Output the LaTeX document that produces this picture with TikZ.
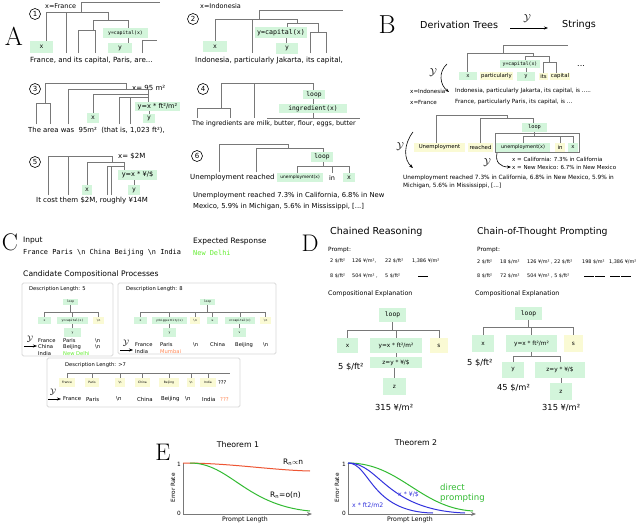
\documentclass[tikz,border=0pt]{standalone}
\usepackage{fontspec}
\setsansfont{DejaVu Sans}
\setmonofont{DejaVu Sans Mono}
\usetikzlibrary{arrows.meta}
\definecolor{boxg}{HTML}{D3F5DB}
\definecolor{boxy}{HTML}{FAFAD4}
\definecolor{treeg}{HTML}{787878}
\definecolor{ngreen}{HTML}{66EE33}
\definecolor{norange}{HTML}{FF8855}
\definecolor{cgreen}{HTML}{33BB33}
\definecolor{cred}{HTML}{EE5533}
\definecolor{cblue}{HTML}{3333DD}
\newcommand{\fsz}[1]{\fontsize{#1}{#1}\selectfont}
\newcommand{\mybox}[7]{\node[#1, minimum width={(#5-#3)*1pt}, minimum height={(#6-#4)*1pt}] (#2) at ({(#3+#5)/2},{(#4+#6)/2}) {#7};}
\newcommand{\blank}{\rule[-0.5pt]{10pt}{0.4pt}}
\tikzset{
 tl/.style={draw=treeg, line width=0.85pt},
 gb/.style={fill=boxg, inner sep=0pt, font=\ttfamily\fsz{6.3}},
 yb/.style={fill=boxy, inner sep=0pt, font=\sffamily\fsz{5.4}},
 tx/.style={inner sep=0pt, font=\sffamily\fsz{7}, anchor=west},
 pr/.style={inner sep=0pt, font=\sffamily\fsz{4.9}, anchor=west},
 circ/.style={draw, circle, inner sep=0pt, minimum size=11pt, line width=0.6pt, font=\sffamily\fsz{7}},
 big/.style={inner sep=0pt, font=\rmfamily\fsz{26}},
 cbox/.style={draw=black!15, line width=0.8pt, rounded corners=1.5pt},
 arr/.style={-{Stealth[length=4pt,width=3pt]}, line width=0.6pt},
 scy/.style={inner sep=0pt, font=\fsz{10}},
}
\begin{document}
\begin{tikzpicture}[x=1pt,y=-1pt]
\useasboundingbox (0,0) rectangle (640,525);
\fill[white] (0,0) rectangle (640,525);
%================ A =================
\node[big] (lA) at (14,36) {A};
% tree 1
\node[circ] (c1) at (35,14) {1};
\node[tx,font=\sffamily\fsz{6.5}] (a1v) at (45,6) {x=France};
\draw[tl] (81,12)--(81,2)--(160,2);
\draw[tl] (46,41)--(46,12)--(108,12)--(108,20);
\draw[tl] (66,12)--(66,53);
\draw[tl] (93,30)--(93,20)--(128,20)--(128,28);
\draw[tl] (78,53)--(78,30)--(95,30)--(95,53);
\draw[tl] (128,38)--(128,43);
\draw[tl] (142,53)--(142,40)--(157,40);
\mybox{gb}{a1x}{30}{41}{53}{53}{x}
\mybox{gb,font=\ttfamily\fsz{4.8}}{a1c}{103}{28}{148}{38}{y=capital(x)}
\mybox{gb}{a1y}{108}{43}{132}{53}{y}
\node[tx,font=\sffamily\fsz{7.1}] (a1t) at (30,61) {France, and its capital, Paris, are...};
% tree 2
\node[circ] (c2) at (193,19) {2};
\node[tx,font=\sffamily\fsz{6.5}] (a2v) at (200,6) {x=Indonesia};
\draw[tl] (259,19)--(259,10)--(343,10);
\draw[tl] (215,41)--(215,19)--(297,19)--(297,23);
\draw[tl] (252,19)--(252,53);
\draw[tl] (287,27)--(287,23)--(318,23)--(318,32);
\draw[tl] (310,53)--(310,32)--(326,32)--(326,53);
\draw[tl] (286,38)--(286,43);
\mybox{gb}{a2x}{203}{41}{227}{52}{x}
\mybox{gb,font=\ttfamily\fsz{6.6}}{a2c}{255}{27}{307}{38}{y=capital(x)}
\mybox{gb}{a2y}{276}{43}{298}{54}{y}
\node[tx,font=\sffamily\fsz{7.1}] (a2t) at (195,61) {Indonesia, particularly Jakarta, its capital,};
% tree 3
\node[circ] (c3) at (35,89) {3};
\node[tx] (a3v) at (132,88) {x= 95 m²};
\draw[tl] (45,103)--(45,83)--(126,83)--(126,89);
\draw[tl] (36,124)--(36,103)--(50,103)--(50,124);
\draw[tl] (68,124)--(68,89)--(148,89)--(148,102);
\draw[tl] (93,113)--(93,94)--(148,94);
\draw[tl] (119,124)--(119,97)--(148,97);
\draw[tl] (130,124)--(130,97);
\draw[tl] (149,111)--(149,114);
\mybox{gb}{a3x}{87}{113}{99}{123}{x}
\mybox{gb,font=\sffamily\fsz{6.6}}{a3c}{135}{102}{180}{111}{y=x * ft²/m²}
\mybox{gb}{a3y}{143}{114}{155}{123}{y}
\node[tx,font=\sffamily\fsz{6.9}] (a3t) at (28,130) {The area was\ \ 95m²\ \ (that is, 1,023 ft²),};
% tree 4
\node[circ] (c4) at (203,89) {4};
\draw[tl] (221,108)--(221,83)--(313,83)--(313,90);
\draw[tl] (197,118)--(197,108)--(230,108)--(230,118);
\draw[tl] (254,83)--(254,118);
\draw[tl] (313,99)--(313,105);
\draw[tl] (313,113)--(313,118);
\draw[tl] (267,118)--(360,118);
\mybox{gb}{a4l}{303}{90}{325}{99}{loop}
\mybox{gb}{a4i}{279}{104}{347}{113}{ingredient(x)}
\node[tx,font=\sffamily\fsz{6.4}] (a4t) at (192,124) {The ingredients are milk, butter, flour, eggs, butter};
% tree 5
\node[circ] (c5) at (35,162) {5};
\node[tx] (a5v) at (118,156) {x= \$2M};
\draw[tl] (48,195)--(48,156)--(112,156)--(112,162);
\draw[tl] (68,156)--(68,195);
\draw[tl] (87,185)--(87,162)--(124,162)--(124,170);
\draw[tl] (107,195)--(107,166)--(124,166);
\draw[tl] (111,166)--(111,195);
\draw[tl] (134,180)--(134,185);
\mybox{gb}{a5x}{82}{185}{92}{195}{x}
\mybox{gb,font=\sffamily\fsz{6.6}}{a5c}{118}{170}{157}{180}{y=x * ¥/\$}
\mybox{gb}{a5y}{128}{185}{140}{195}{y}
\node[tx] (a5t) at (36,201) {It cost them \$2M, roughly ¥14M};
% tree 6
\node[circ] (c6) at (197,156) {6};
\draw[tl] (219,172)--(219,144)--(288,144)--(288,148);
\draw[tl] (256,172)--(256,148)--(323,148)--(323,152);
\draw[tl] (323,162)--(323,166);
\draw[tl] (297,173)--(297,166)--(349,166)--(349,173);
\draw[tl] (332,166)--(332,173);
\mybox{gb}{a6l}{311}{152}{333}{162}{loop}
\mybox{gb,font=\sffamily\fsz{4.4}}{a6u}{277}{173}{323}{182}{unemployment(x)}
\node[tx,anchor=center,font=\sffamily\fsz{6.5}] (a6in) at (332,178) {in};
\mybox{gb}{a6x}{343}{173}{355}{182}{x}
\node[tx] (a6w) at (190,178) {Unemployment reached};
\node[tx,font=\sffamily\fsz{6.8}] (a6t1) at (193,196) {Unemployment reached 7.3\% in California, 6.8\% in New};
\node[tx,font=\sffamily\fsz{6.8}] (a6t2) at (193,207) {Mexico, 5.9\% in Michigan, 5.6\% in Mississippi, [...]};
%================ B =================
\node[big] (lB) at (387,25) {B};
\node[tx,font=\sffamily\fsz{9.6}] (bd) at (420,25) {Derivation Trees};
\node[tx,font=\sffamily\fsz{9.6}] (bs) at (562,25) {Strings};
\coordinate (ba1) at (510,28); \coordinate (ba2) at (548,28);
\draw[arr] (ba1)--(ba2);
\node[scy] (by1) at (527,19) {$\mathcal{Y}$};
\draw[tl] (503,53)--(503,45)--(568,45);
\draw[tl] (467,72)--(467,53)--(533,53)--(533,56);
\draw[tl] (525,60)--(525,56)--(549,56)--(549,62);
\draw[tl] (543,73)--(543,62)--(556,62)--(556,73);
\draw[tl] (526,68)--(526,72);
\mybox{gb,font=\ttfamily\fsz{5.3}}{bx}{459}{72}{477}{80}{x}
\mybox{yb}{bp}{480}{72}{513}{80}{particularly}
\mybox{gb,font=\ttfamily\fsz{4.8}}{bc}{500}{60}{540}{68}{y=capital(x)}
\mybox{gb,font=\ttfamily\fsz{5.3}}{by}{517}{72}{535}{81}{y}
\mybox{yb}{bi}{539}{73}{548}{80}{its}
\mybox{yb}{bcap}{550}{73}{570}{80}{capital}
\node[tx,font=\sffamily\fsz{8}] (bdots) at (577,66) {...};
\node[scy] (by2) at (433,73) {$\mathcal{Y}$};
\coordinate (bc1) at (447,64); \coordinate (bc2) at (449,92);
\draw[arr] (bc1) .. controls (438,72) and (440,85) .. (bc2);
\node[tx,font=\sffamily\fsz{5.6}] (bt1) at (410,91) {x=Indonesia};
\node[tx,font=\sffamily\fsz{5.7}] (bt2) at (455,91) {Indonesia, particularly Jakarta, its capital, is .....};
\node[tx,font=\sffamily\fsz{5.6}] (bt3) at (410,102) {x=France};
\node[tx,font=\sffamily\fsz{5.7}] (bt4) at (455,102) {France, particularly Paris, its capital, is ...};
% second tree
\draw[tl] (436,143)--(436,115)--(507,115)--(507,118);
\draw[tl] (480,143)--(480,118)--(533,118)--(533,123);
\draw[draw=treeg, line width=0.5pt] (495,133) rectangle (579,152);
\draw[tl] (534,132)--(534,136);
\draw[tl] (523,143)--(523,136)--(573,136)--(573,143);
\draw[tl] (560,136)--(560,143);
\mybox{gb,font=\ttfamily\fsz{5.3}}{bl}{522}{123}{547}{132}{loop}
\mybox{yb}{bun}{414}{143}{465}{152}{Unemployment}
\mybox{yb}{bre}{468}{143}{493}{152}{reached}
\mybox{gb,font=\sffamily\fsz{4.9}}{bux}{496}{143}{550}{152}{unemployment(x)}
\mybox{yb}{bin}{555}{143}{565}{152}{in}
\mybox{gb,font=\sffamily\fsz{5.3}}{bxx}{568}{143}{578}{152}{x}
\node[scy] (by3) at (400,147) {$\mathcal{Y}$};
\coordinate (bd1) at (413,132); \coordinate (bd2) at (413,168);
\draw[arr] (bd1) .. controls (403,145) and (404,160) .. (bd2);
\node[scy] (by4) at (487,163) {$\mathcal{Y}$};
\coordinate (be1) at (497,153); \coordinate (be2) at (511,167);
\draw[arr] (be1) .. controls (495,162) and (500,167) .. (be2);
\node[tx,font=\sffamily\fsz{5.5}] (bt5) at (512,159) {x = California: 7.3\% in California};
\node[tx,font=\sffamily\fsz{5.5}] (bt6) at (512,167) {x = New Mexico: 6.7\% in New Mexico};
\node[tx,font=\sffamily\fsz{5.8}] (bt7) at (403,178) {Unemployment reached 7.3\% in California, 6.8\% in New Mexico, 5.9\% in};
\node[tx,font=\sffamily\fsz{5.8}] (bt8) at (403,186) {Michigan, 5.6\% in Mississippi, [...]};
%================ C =================
\node[big,font=\rmfamily\fsz{24}] (lC) at (10,242) {C};
\node[tx,font=\sffamily\fsz{7.5}] (cin) at (23,241) {Input};
\node[tx,font=\ttfamily\fsz{6.9}] (cins) at (23,253) {France Paris \textbackslash n China Beijing \textbackslash n India};
\node[tx,font=\sffamily\fsz{7.5}] (cexp) at (193,241) {Expected Response};
\node[tx,font=\ttfamily\fsz{6.9},text=ngreen] (cnd) at (193,253) {New Delhi};
\node[tx,font=\sffamily\fsz{7.6}] (ccand) at (23,274) {Candidate Compositional Processes};
% box 1
\draw[cbox] (22,283) rectangle (113,356);
\node[tx,font=\sffamily\fsz{5.2}] (cd1) at (29,289) {Description Length: 5};
\draw[tl,line width=0.6pt] (70.5,305)--(70.5,312);
\draw[tl,line width=0.6pt] (44.5,317)--(44.5,312)--(98.5,312)--(98.5,317);
\draw[tl,line width=0.6pt] (72.5,312)--(72.5,317);
\draw[tl,line width=0.6pt] (72.5,324)--(72.5,328);
\mybox{gb,font=\ttfamily\fsz{3}}{c1l}{63}{299}{78}{305}{loop}
\mybox{gb,font=\ttfamily\fsz{3}}{c1x}{38}{317}{51}{324}{x}
\mybox{gb,font=\ttfamily\fsz{3}}{c1c}{57}{317}{88}{324}{y=capital(x)}
\mybox{yb,font=\ttfamily\fsz{3}}{c1n}{93}{317}{104}{324}{\textbackslash n}
\mybox{gb,font=\ttfamily\fsz{3}}{c1y}{64}{328}{81}{337}{y}
\node[scy,font=\fsz{8}] (c1Y) at (30,339) {$\mathcal{Y}$};
\coordinate (c1a) at (24,346); \coordinate (c1b) at (37,346);
\draw[arr,line width=0.5pt] (c1a)--(c1b);
\node[tx,font=\sffamily\fsz{5.2}] (c1t1) at (38,341) {France};
\node[tx,font=\sffamily\fsz{5.2}] (c1t2) at (38,347) {China};
\node[tx,font=\sffamily\fsz{5.2}] (c1t3) at (38,354) {India};
\node[tx,font=\sffamily\fsz{5.2}] (c1t4) at (63,341) {Paris};
\node[tx,font=\sffamily\fsz{5.2}] (c1t5) at (63,347) {Beijing};
\node[tx,font=\sffamily\fsz{5.2},text=ngreen] (c1t6) at (63,354) {New Delhi};
\node[tx,font=\sffamily\fsz{5.2}] (c1t7) at (95,341) {\textbackslash n};
\node[tx,font=\sffamily\fsz{5.2}] (c1t8) at (95,347) {\textbackslash n};
% box 2
\draw[cbox] (118,283) rectangle (276,354);
\node[tx,font=\sffamily\fsz{5.2}] (cd2) at (126,289) {Description Length: 8};
\draw[tl,line width=0.6pt] (207.5,305)--(207.5,312);
\draw[tl,line width=0.6pt] (140.5,317)--(140.5,312)--(265.5,312)--(265.5,317);
\foreach \xx in {169.5,195,212.5,240} {\draw[tl,line width=0.6pt] (\xx,312)--(\xx,317);}
\draw[tl,line width=0.6pt] (169.5,324)--(169.5,328);
\draw[tl,line width=0.6pt] (239.5,324)--(239.5,328);
\mybox{gb,font=\ttfamily\fsz{3}}{c2l}{200}{299}{215}{305}{loop}
\mybox{gb,font=\ttfamily\fsz{3}}{c2x}{134}{317}{147}{324}{x}
\mybox{gb,font=\ttfamily\fsz{2.8}}{c2b}{152}{317}{187}{324}{y=biggestCity(x)}
\mybox{yb,font=\ttfamily\fsz{3}}{c2n1}{190}{317}{200}{324}{\textbackslash n}
\mybox{gb,font=\ttfamily\fsz{3}}{c2u}{207}{317}{218}{324}{u}
\mybox{gb,font=\ttfamily\fsz{3}}{c2v}{225}{317}{255}{324}{v=capital(x)}
\mybox{yb,font=\ttfamily\fsz{3}}{c2n2}{260}{317}{271}{324}{\textbackslash n}
\mybox{gb,font=\ttfamily\fsz{3}}{c2y1}{163}{328}{176}{337}{y}
\mybox{gb,font=\ttfamily\fsz{3}}{c2y2}{233}{328}{246}{337}{v}
\node[scy,font=\fsz{8}] (c2Y) at (126,343) {$\mathcal{Y}$};
\coordinate (c2a) at (120,350); \coordinate (c2b2) at (133,350);
\draw[arr,line width=0.5pt] (c2a)--(c2b2);
\node[tx,font=\sffamily\fsz{5.2}] (c2t1) at (135,345) {France};
\node[tx,font=\sffamily\fsz{5.2}] (c2t2) at (135,352) {India};
\node[tx,font=\sffamily\fsz{5.2}] (c2t3) at (160,345) {Paris};
\node[tx,font=\sffamily\fsz{5.2},text=norange] (c2t4) at (160,352) {Mumbai};
\node[tx,font=\sffamily\fsz{5.2}] (c2t5) at (193,345) {\textbackslash n};
\node[tx,font=\sffamily\fsz{5.2}] (c2t6) at (210,345) {China};
\node[tx,font=\sffamily\fsz{5.2}] (c2t7) at (235,345) {Beijing};
\node[tx,font=\sffamily\fsz{5.2}] (c2t8) at (263,345) {\textbackslash n};
% box 3
\draw[cbox] (47,358) rectangle (240,407);
\node[tx,font=\sffamily\fsz{5.2}] (cd3) at (65,365) {Description Length: >7};
\draw[tl,line width=0.6pt] (67,378)--(67,373)--(230,373);
\foreach \xx in {92,120,142.5,169,191,208} {\draw[tl,line width=0.6pt] (\xx,373)--(\xx,378);}
\mybox{yb,font=\sffamily\fsz{3}}{c3a}{59}{378}{75}{387}{France}
\mybox{yb,font=\sffamily\fsz{3}}{c3b}{85}{378}{99}{387}{Paris}
\mybox{yb,font=\sffamily\fsz{3}}{c3c}{115}{378}{125}{387}{\textbackslash n}
\mybox{yb,font=\sffamily\fsz{3}}{c3d}{135}{378}{150}{387}{China}
\mybox{yb,font=\sffamily\fsz{3}}{c3e}{159}{378}{179}{387}{Beijing}
\mybox{yb,font=\sffamily\fsz{3}}{c3f}{187}{378}{195}{387}{\textbackslash n}
\mybox{yb,font=\sffamily\fsz{3}}{c3g}{200}{378}{216}{387}{India}
\node[tx,font=\sffamily\fsz{5.2}] (c3q) at (218,383) {???};
\node[scy,font=\fsz{8}] (c3Y) at (53,392) {$\mathcal{Y}$};
\coordinate (c3p) at (48,399); \coordinate (c3r) at (61,399);
\draw[arr,line width=0.5pt] (c3p)--(c3r);
\node[tx,font=\sffamily\fsz{5.4}] (c3t1) at (63,399) {France};
\node[tx,font=\sffamily\fsz{5.4}] (c3t2) at (86,399) {Paris};
\node[tx,font=\sffamily\fsz{5.4}] (c3t3) at (116,399) {\textbackslash n};
\node[tx,font=\sffamily\fsz{5.4}] (c3t4) at (137,399) {China};
\node[tx,font=\sffamily\fsz{5.4}] (c3t5) at (161,399) {Beijing};
\node[tx,font=\sffamily\fsz{5.4}] (c3t6) at (185,399) {\textbackslash n};
\node[tx,font=\sffamily\fsz{5.4}] (c3t7) at (202,399) {India};
\node[tx,font=\sffamily\fsz{5.4},text=norange] (c3t8) at (220,399) {???};
%================ D =================
\node[big,font=\rmfamily\fsz{24}] (lD) at (310,243) {D};
\node[tx,font=\sffamily\fsz{9.6}] (dch) at (330,232) {Chained Reasoning};
\node[tx,font=\sffamily\fsz{5.8}] (dp1) at (328,250) {Prompt:};
\node[pr] (dr1a) at (330,261) {2 \$/ft²};
\node[pr] (dr1b) at (352,261) {126 ¥/m²,};
\node[pr] (dr1c) at (385,261) {22 \$/ft²};
\node[pr] (dr1d) at (412,261) {1,386 ¥/m²};
\node[pr] (dr2a) at (330,276) {8 \$/ft²};
\node[pr] (dr2b) at (352,276) {504 ¥/m²\,\,,};
\node[pr] (dr2c) at (385,276) {5 \$/ft²};
\node[pr] (dr2d) at (418,276) {\blank};
\node[tx,font=\sffamily\fsz{6.3}] (dce) at (328,294) {Compositional Explanation};
\draw[tl] (392.5,322)--(392.5,330);
\draw[tl] (347.5,338)--(347.5,330)--(439,330)--(439,338);
\draw[tl] (396,330)--(396,338);
\draw[tl] (396,353)--(396,357);
\draw[tl] (394.5,368)--(394.5,378);
\mybox{gb}{dl}{379}{308}{406}{322}{loop}
\mybox{gb,font=\sffamily\fsz{5.8}}{dx}{337}{338}{358}{353}{x}
\mybox{gb,font=\sffamily\fsz{5.8}}{dy}{370}{338}{422}{353}{y=x * ft²/m²}
\mybox{yb,font=\sffamily\fsz{5.8}}{ds}{430}{338}{448}{353}{s}
\mybox{gb,font=\sffamily\fsz{5.8}}{dz1}{370}{357}{422}{368}{z=y * ¥/\$}
\mybox{gb,font=\sffamily\fsz{5.8}}{dz}{383}{378}{406}{395}{z}
\node[tx,font=\sffamily\fsz{8.3}] (d5) at (338,367) {5 \$/ft²};
\node[tx,font=\sffamily\fsz{8.3}] (d315) at (375,408) {315 ¥/m²};
% right
\node[tx,font=\sffamily\fsz{9.3}] (dcot) at (477,232) {Chain-of-Thought Prompting};
\node[tx,font=\sffamily\fsz{5.8}] (dp2) at (477,250) {Prompt:};
\node[pr] (er1a) at (477,262) {2 \$/ft²};
\node[pr] (er1b) at (500,262) {18 \$/m²};
\node[pr] (er1c) at (527,262) {126 ¥/m² ,};
\node[pr] (er1d) at (554,262) {22 \$/ft²};
\node[pr] (er1e) at (582,262) {198 \$/m²};
\node[pr] (er1f) at (609,262) {1,386 ¥/m²};
\node[pr] (er2a) at (477,276) {8 \$/ft²};
\node[pr] (er2b) at (500,276) {72 \$/m²};
\node[pr] (er2c) at (527,276) {504 ¥/m² , 5 \$/ft²};
\node[pr] (er2d) at (584,276) {\blank\,\blank};
\node[pr] (er2e) at (610,276) {\blank\,\blank};
\node[tx,font=\sffamily\fsz{6.3}] (dce2) at (475,294) {Compositional Explanation};
\draw[tl] (528.5,320)--(528.5,327);
\draw[tl] (483,335)--(483,327)--(573.5,327)--(573.5,335);
\draw[tl] (531.5,327)--(531.5,335);
\draw[tl] (531.5,352)--(531.5,356);
\draw[tl] (513,362)--(513,356)--(560,356)--(560,362);
\draw[tl] (561,378)--(561,383);
\mybox{gb}{el}{515}{307}{542}{320}{loop}
\mybox{gb,font=\sffamily\fsz{5.8}}{ex}{472}{335}{494}{352}{x}
\mybox{gb,font=\sffamily\fsz{5.8}}{ey}{506}{335}{557}{352}{y=x * ft²/m²}
\mybox{yb,font=\sffamily\fsz{5.8}}{es}{564}{335}{583}{352}{s}
\mybox{gb,font=\sffamily\fsz{5.8}}{eyy}{502}{362}{524}{378}{y}
\mybox{gb,font=\sffamily\fsz{5.8}}{ez1}{535}{362}{585}{378}{z=y * ¥/\$}
\mybox{gb,font=\sffamily\fsz{5.8}}{ez}{550}{383}{572}{400}{z}
\node[tx,font=\sffamily\fsz{8.3}] (e5) at (467,363) {5 \$/ft²};
\node[tx,font=\sffamily\fsz{8.3}] (e45) at (497,388) {45 \$/m²};
\node[tx,font=\sffamily\fsz{8.3}] (e315) at (542,408) {315 ¥/m²};
%================ E =================
\node[big,font=\rmfamily\fsz{24}] (lE) at (163,452) {E};
\node[tx,font=\sffamily\fsz{7.8},anchor=center] (t1) at (238,445) {Theorem 1};
\coordinate (o1) at (183,514); \coordinate (y1) at (183,463); \coordinate (x1) at (312,514);
\draw[treeg,line width=0.8pt] (y1)--(o1);
\draw[treeg,line width=0.8pt,-{Stealth[length=5pt,width=4pt]}] (o1)--(x1);
\node[tx,font=\sffamily\fsz{5.8},anchor=east] (t1one) at (181,464) {1};
\node[tx,font=\sffamily\fsz{5.8},anchor=east] (t1zero) at (181,513) {0};
\node[tx,font=\sffamily\fsz{5.8},anchor=center,rotate=90] (t1er) at (173,488) {Error Rate};
\node[tx,font=\sffamily\fsz{6.2},anchor=center] (t1pl) at (245,520) {Prompt Length};
\draw[cred,line width=1pt] (183,463) .. controls (230,463) and (270,470) .. (310,471);
\draw[cgreen,line width=1pt] (190,463) .. controls (230,463) and (245,505) .. (310,511);
\node[tx,font=\sffamily\fsz{7.5}] (rn1) at (283,462) {R\textsubscript{n}$\propto$n};
\node[tx,font=\sffamily\fsz{7.5}] (rn2) at (270,495) {R\textsubscript{n}=o(n)};
% theorem 2
\node[tx,font=\sffamily\fsz{7.8},anchor=center] (t2) at (416,443) {Theorem 2};
\coordinate (o2) at (348,514); \coordinate (y2) at (348,463); \coordinate (x2) at (476,514);
\draw[treeg,line width=0.8pt] (y2)--(o2);
\draw[treeg,line width=0.8pt,-{Stealth[length=5pt,width=4pt]}] (o2)--(x2);
\node[tx,font=\sffamily\fsz{5.8},anchor=east] (t2one) at (346,464) {1};
\node[tx,font=\sffamily\fsz{5.8},anchor=east] (t2zero) at (346,513) {0};
\node[tx,font=\sffamily\fsz{5.8},anchor=center,rotate=90] (t2er) at (337,488) {Error Rate};
\node[tx,font=\sffamily\fsz{6.2},anchor=center] (t2pl) at (410,520) {Prompt Length};
\draw[cgreen,line width=1pt] (348,463) .. controls (400,463) and (420,508) .. (473,511);
\draw[cblue,line width=1pt] (348,463) .. controls (370,463) and (370,512) .. (433,513);
\draw[cblue,line width=1pt] (348,463) .. controls (380,463) and (385,510) .. (465,513);
\node[tx,font=\sffamily\fsz{6.2},text=cblue] (bl1) at (398,495) {x * ¥/\$};
\node[tx,font=\sffamily\fsz{6.2},text=cblue] (bl2) at (352,505) {x * ft2/m2};
\node[tx,font=\sffamily\fsz{8.6},text=cgreen] (dp) at (440,487) {direct};
\node[tx,font=\sffamily\fsz{8.6},text=cgreen] (dpp) at (440,498) {prompting};
\end{tikzpicture}
\end{document}
